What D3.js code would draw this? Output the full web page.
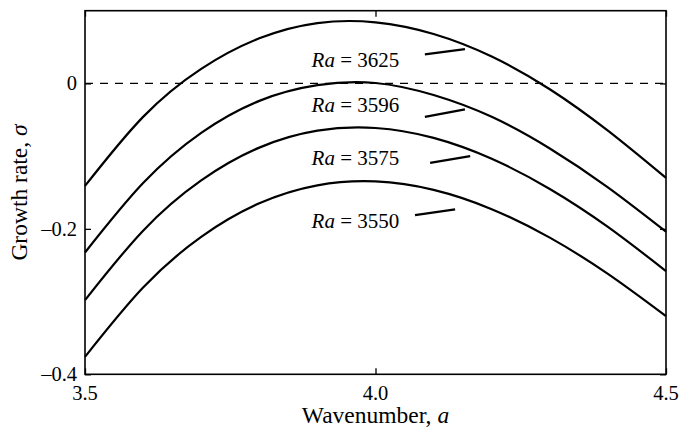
<!DOCTYPE html>
<html>
<head>
<meta charset="utf-8">
<script src="https://cdn.jsdelivr.net/npm/d3@7"></script>
<style>
  html, body { margin: 0; padding: 0; background: #fff; }
  svg { display: block; }
  svg text { font-family: 'Liberation Serif', 'DejaVu Serif', 'Times New Roman', Times, serif; fill: #000; }
</style>
</head>
<body>
<svg id="chart" width="680" height="428" font-family="Liberation Serif, serif"></svg>
<script>
// Wavenumber samples and growth-rate curves, one per Rayleigh number
const wavenumber = [3.5, 3.6, 3.7, 3.8, 3.9, 4.0, 4.1, 4.2, 4.3, 4.4, 4.5];
const sigmaRa3625 = [-0.141, -0.046, 0.020, 0.062, 0.083, 0.084, 0.068, 0.037, -0.008, -0.065, -0.130];
const sigmaRa3596 = [-0.2325, -0.137, -0.068, -0.024, -0.0024, 0.0006, -0.016, -0.046, -0.0895, -0.143, -0.204];
const sigmaRa3575 = [-0.298, -0.2025, -0.1334, -0.0883, -0.065, -0.0613, -0.0749, -0.1036, -0.1451, -0.1973, -0.258];
const sigmaRa3550 = [-0.376, -0.2807, -0.211, -0.1649, -0.1402, -0.1348, -0.1464, -0.1729, -0.2121, -0.2619, -0.320];
const rayleigh = [3625, 3596, 3575, 3550];

const xTicks = [3.5, 4.0, 4.5];
const yTicks = [-0.4, -0.2, 0];

// Where each "Ra = ..." label sits and its short leader line (wavenumber, sigma)
const labelPlacement = [
  { text: [3.890, 0.0224],  lead: [[4.085, 0.0399], [4.154, 0.0472]] },
  { text: [3.890, -0.039],  lead: [[4.085, -0.0459], [4.154, -0.0357]] },
  { text: [3.890, -0.1124], lead: [[4.094, -0.1092], [4.163, -0.1000]] },
  { text: [3.890, -0.199],  lead: [[4.068, -0.1811], [4.137, -0.1732]] }
];

const curves = [sigmaRa3625, sigmaRa3596, sigmaRa3575, sigmaRa3550].map((vals, i) => ({
  ra: rayleigh[i],
  points: vals.map((s, j) => ({ a: wavenumber[j], s }))
}));

const svg = d3.select("#chart");
const plotL = 85, plotR = 666, plotT = 10.7, plotB = 374.3;

const x = d3.scaleLinear().domain([3.5, 4.5]).range([plotL, plotR]);
const y = d3.scaleLinear().domain([-0.4, 0.1]).range([plotB, plotT]);

// zero growth-rate reference line
svg.append("line")
  .attr("x1", x(3.5)).attr("x2", x(4.5))
  .attr("y1", y(0)).attr("y2", y(0))
  .attr("stroke", "#000").attr("stroke-width", 1.3)
  .attr("stroke-dasharray", "8,7");

const line = d3.line().x(d => x(d.a)).y(d => y(d.s)).curve(d3.curveNatural);

svg.append("g").selectAll("path").data(curves).join("path")
  .attr("d", d => line(d.points))
  .attr("fill", "none").attr("stroke", "#000").attr("stroke-width", 2.2);

// inward ticks on all four sides
const tickLen = 6;
const axisStyle = g => {
  g.select(".domain").remove();
  g.selectAll(".tick line").attr("stroke", "#000").attr("stroke-width", 1.3);
};
svg.append("g").attr("transform", `translate(0,${plotB})`)
  .call(d3.axisBottom(x).tickValues(xTicks).tickSize(-tickLen).tickFormat(""))
  .call(axisStyle);
svg.append("g").attr("transform", `translate(0,${plotT})`)
  .call(d3.axisTop(x).tickValues(xTicks).tickSize(-tickLen).tickFormat(""))
  .call(axisStyle);
svg.append("g").attr("transform", `translate(${plotL},0)`)
  .call(d3.axisLeft(y).tickValues(yTicks).tickSize(-tickLen).tickFormat(""))
  .call(axisStyle);
svg.append("g").attr("transform", `translate(${plotR},0)`)
  .call(d3.axisRight(y).tickValues(yTicks).tickSize(-tickLen).tickFormat(""))
  .call(axisStyle);

// frame
svg.append("rect")
  .attr("x", plotL).attr("y", plotT)
  .attr("width", plotR - plotL).attr("height", plotB - plotT)
  .attr("fill", "none").attr("stroke", "#000").attr("stroke-width", 1.6);

// tick labels
const fmtX = d3.format(".1f");
svg.append("g").selectAll("text").data(xTicks).join("text")
  .attr("x", d => x(d)).attr("y", 400)
  .attr("text-anchor", "middle").attr("font-size", 20.5)
  .text(d => fmtX(d));

svg.append("g").selectAll("text").data(yTicks).join("text")
  .attr("x", 77).attr("y", d => y(d)).attr("dy", "0.34em")
  .attr("text-anchor", "end").attr("font-size", 20.5)
  .text(d => d === 0 ? "0" : "\u2013" + Math.abs(d));

// axis titles
const xt = svg.append("text")
  .attr("x", x(4.0)).attr("y", 423)
  .attr("text-anchor", "middle").attr("font-size", 23.5);
xt.append("tspan").text("Wavenumber, ");
xt.append("tspan").attr("font-style", "italic").text("a");

const yt = svg.append("text")
  .attr("transform", `translate(27,${(plotT + plotB) / 2}) rotate(-90)`)
  .attr("text-anchor", "middle").attr("font-size", 23.5);
yt.append("tspan").text("Growth rate, ");
yt.append("tspan").attr("font-style", "italic").text("\u03c3");

// curve labels with leader lines
const lab = svg.append("g").selectAll("g").data(curves).join("g");
lab.append("text")
  .attr("x", (d, i) => x(labelPlacement[i].text[0]))
  .attr("y", (d, i) => y(labelPlacement[i].text[1]))
  .attr("font-size", 21)
  .each(function(d) {
    const t = d3.select(this);
    t.append("tspan").attr("font-style", "italic").text("Ra");
    t.append("tspan").text(" = " + d.ra);
  });
lab.append("line")
  .attr("x1", (d, i) => x(labelPlacement[i].lead[0][0]))
  .attr("y1", (d, i) => y(labelPlacement[i].lead[0][1]))
  .attr("x2", (d, i) => x(labelPlacement[i].lead[1][0]))
  .attr("y2", (d, i) => y(labelPlacement[i].lead[1][1]))
  .attr("stroke", "#000").attr("stroke-width", 2.2);
</script>
</body>
</html>
